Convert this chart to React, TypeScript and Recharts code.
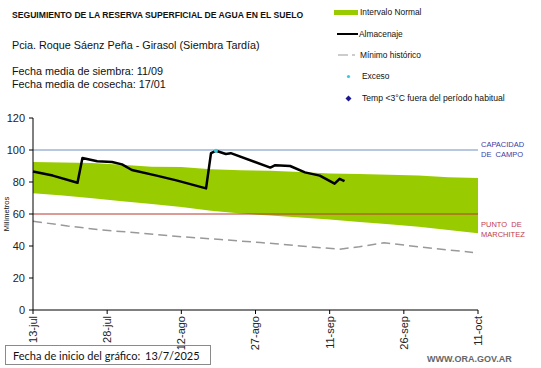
import React from "react";
import {
  ComposedChart,
  Area,
  Line,
  Scatter,
  XAxis,
  YAxis,
  ReferenceLine,
} from "recharts";

// days since 13-jul
const xTickDays = [0, 15, 30, 45, 60, 75, 90];
const xTickLabels = ["13-jul", "28-jul", "12-ago", "27-ago", "11-sep", "26-sep", "11-oct"];
const yTicks = [0, 20, 40, 60, 80, 100, 120];

// intervalo normal
const bandDays = [0, 6, 12, 18, 24, 30, 36, 42, 48, 54, 60, 66, 72, 78, 84, 90];
const bandHigh = [92.5, 92.2, 91.8, 90.8, 89.5, 89.3, 88, 87.3, 87, 86.2, 85.3, 85, 84.6, 84, 83, 82.5];
const bandLow = [73, 71.5, 69.8, 68, 66.2, 64.3, 62, 60.3, 59, 57.8, 56.5, 55, 53.6, 52, 50, 48];

// minimo historico
const minDays = [0, 7, 14, 22, 30, 38, 46, 54, 62, 66, 71, 78, 84, 89];
const minValues = [55.5, 52.5, 50, 48, 45.8, 44, 42.2, 40, 38, 39.5, 42, 39.5, 37.5, 36];

// almacenaje
const storageDays = [0, 4, 9, 10, 13, 16, 18, 20, 25, 29, 35, 36, 37, 39, 40, 48, 49, 52, 55, 58, 61, 62, 63];
const storageValues = [86.5, 84, 79.5, 95, 93, 92.5, 91, 87.5, 84, 81, 76, 98, 99.5, 97.5, 98, 89, 90.5, 90, 86, 84, 79, 82, 80.5];

// exceso
const excessDays = [37];
const excessValues = [99.5];

const fieldCapacity = 100;
const wiltingPoint = 60;

const bandData = bandDays.map((day, i) => ({ day, range: [bandLow[i], bandHigh[i]] }));
const minData = minDays.map((day, i) => ({ day, value: minValues[i] }));
const storageData = storageDays.map((day, i) => ({ day, value: storageValues[i] }));
const excessData = excessDays.map((day, i) => ({ day, value: excessValues[i] }));

const font = "'Liberation Sans', Arial, sans-serif";

const XTick = (props: any) => {
  const { x, y, payload } = props;
  const idx = xTickDays.indexOf(payload.value);
  return (
    <text
      x={x}
      y={y}
      transform={`rotate(-90, ${x}, ${y})`}
      textAnchor="end"
      dy="0.35em"
      fontSize={11}
      fontFamily={font}
      fill="#222"
    >
      {xTickLabels[idx]}
    </text>
  );
};

const txt = (left: number, top: number, size: number, extra: React.CSSProperties = {}) => ({
  position: "absolute" as const,
  left,
  top,
  fontSize: size,
  fontFamily: font,
  whiteSpace: "nowrap" as const,
  lineHeight: 1,
  color: "#111",
  ...extra,
});

export default function App() {
  return (
    <div style={{ position: "absolute", left: 0, top: 0, width: 541, height: 368, background: "#fff", overflow: "hidden" }}>
      <ComposedChart width={541} height={368} margin={{ top: 118, right: 63, bottom: 28, left: 5 }}>
        <XAxis
          dataKey="day"
          type="number"
          domain={[0, 90]}
          ticks={xTickDays}
          tick={<XTick />}
          tickSize={4}
          tickMargin={2}
          height={30}
          stroke="#000"
          allowDuplicatedCategory={false}
        />
        <YAxis
          type="number"
          domain={[0, 120]}
          ticks={yTicks}
          width={28}
          tickSize={4}
          tickMargin={4}
          stroke="#000"
          tick={{ fontSize: 11, fontFamily: font, fill: "#222" }}
        />
        <Area
          data={bandData}
          dataKey="range"
          type="linear"
          stroke="none"
          fill="#99cc00"
          fillOpacity={1}
          isAnimationActive={false}
        />
        <ReferenceLine y={fieldCapacity} stroke="#6f8fc4" strokeWidth={1} />
        <ReferenceLine y={wiltingPoint} stroke="#b8362e" strokeWidth={1} />
        <Line
          data={minData}
          dataKey="value"
          type="linear"
          stroke="#999"
          strokeWidth={1.5}
          strokeDasharray="9 5"
          dot={false}
          isAnimationActive={false}
        />
        <Line
          data={storageData}
          dataKey="value"
          type="linear"
          stroke="#000"
          strokeWidth={2.5}
          strokeLinejoin="round"
          dot={false}
          isAnimationActive={false}
        />
        <Scatter
          data={excessData}
          dataKey="value"
          fill="#33ccdd"
          shape={(p: any) => <circle cx={p.cx} cy={p.cy} r={2} fill="#33ccdd" />}
          isAnimationActive={false}
        />
      </ComposedChart>

      {/* titulos */}
      <div style={txt(12, 11, 8.6, { fontWeight: "bold" })}>
        SEGUIMIENTO DE LA RESERVA SUPERFICIAL DE AGUA EN EL SUELO
      </div>
      <div style={txt(12, 40, 10.8)}>Pcia. Roque Sáenz Peña - Girasol (Siembra Tardía)</div>
      <div style={txt(12, 66, 10.8)}>Fecha media de siembra: 11/09</div>
      <div style={txt(12, 79, 10.8)}>Fecha media de cosecha: 17/01</div>

      {/* leyenda */}
      <div style={{ position: "absolute", left: 334, top: 10, width: 24, height: 5, background: "#99cc00" }} />
      <div style={txt(360, 8, 8.4)}>Intervalo Normal</div>
      <div style={{ position: "absolute", left: 337, top: 33, width: 21, height: 2, background: "#000" }} />
      <div style={txt(359, 30, 8.4)}>Almacenaje</div>
      <svg style={{ position: "absolute", left: 338, top: 50 }} width={22} height={10}>
        <line x1={0} y1={5} x2={20} y2={5} stroke="#999" strokeWidth={1.2} strokeDasharray="10 4 3 10" />
      </svg>
      <div style={txt(360, 51, 8.4)}>Mínimo histórico</div>
      <svg style={{ position: "absolute", left: 345, top: 73 }} width={8} height={8}>
        <circle cx={3.5} cy={3.5} r={1.6} fill="#33ccdd" />
      </svg>
      <div style={txt(362, 72, 8.4)}>Exceso</div>
      <svg style={{ position: "absolute", left: 345, top: 95 }} width={8} height={8}>
        <polygon points="3.5,0.5 6.5,3.5 3.5,6.5 0.5,3.5" fill="#1a1a8c" />
      </svg>
      <div style={txt(362, 94, 8.6)}>Temp &lt;3°C fuera del período habitual</div>

      {/* etiquetas derechas */}
      <div style={txt(481, 140, 7.5, { color: "#3a3aa8", lineHeight: "10px" })}>
        CAPACIDAD
        <br />
        DE&nbsp;&nbsp;CAMPO
      </div>
      <div style={txt(481, 220, 7.5, { color: "#c23b4a", lineHeight: "10px" })}>
        PUNTO&nbsp;&nbsp;DE
        <br />
        MARCHITEZ
      </div>

      {/* eje y */}
      <div
        style={txt(7, 214, 7.5, {
          transform: "translate(-50%, -50%) rotate(-90deg)",
          transformOrigin: "center",
        })}
      >
        Milímetros
      </div>

      {/* pie */}
      <div
        style={{
          position: "absolute",
          left: 5,
          top: 345,
          width: 206,
          height: 20,
          border: "1px solid #8a8a8a",
          boxSizing: "border-box",
        }}
      />
      <div style={txt(13, 350, 11, { fontFamily: "Lato, 'Open Sans', sans-serif" })}>Fecha de inicio del gráfico:</div>
      <div style={txt(145, 350, 11, { fontFamily: "Lato, 'Open Sans', sans-serif" })}>13/7/2025</div>
      <div style={txt(427, 355, 9, { fontWeight: "bold", color: "#666" })}>WWW.ORA.GOV.AR</div>
    </div>
  );
}
